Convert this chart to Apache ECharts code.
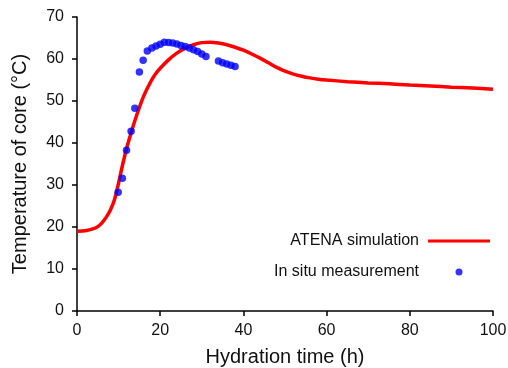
<!DOCTYPE html>
<html>
<head>
<meta charset="utf-8">
<script src="https://cdn.jsdelivr.net/npm/echarts@6/dist/echarts.min.js"></script>
<style>
  html, body { margin: 0; padding: 0; background: #fff; }
  #chart { width: 508px; height: 368px; }
</style>
</head>
<body>
<div id="chart"></div>
<script>
// ATENA simulation curve
const simTime = [0, 2, 4, 5, 6, 7, 8, 9, 10, 11, 12, 13, 14, 15, 16, 17, 18, 19, 20, 22, 24, 26, 28, 30, 32, 34, 36, 38, 40, 42, 44, 46, 48, 50, 52, 54, 56, 58, 60, 65, 70, 75, 80, 85, 90, 95, 100];
const simTemp = [19, 19.1, 19.6, 20.1, 21, 22.3, 24, 26.5, 30.5, 35, 39, 42.4, 45.6, 48.5, 51.1, 53.2, 55.1, 56.6, 57.8, 59.8, 61.4, 62.6, 63.4, 63.9, 64, 63.8, 63.4, 62.8, 62.1, 61.2, 60.2, 59.1, 58, 57.1, 56.4, 55.9, 55.5, 55.2, 55, 54.6, 54.3, 54.1, 53.8, 53.6, 53.3, 53.1, 52.8];

// in situ measurement points
const measTime = [9.9, 10.9, 11.9, 13, 13.9, 15, 15.9, 16.9, 18, 19, 20, 21, 22, 23, 24, 25, 26, 27, 28, 29, 30, 31, 34, 35, 36, 37, 38];
const measTemp = [28.3, 31.6, 38.3, 42.8, 48.3, 56.9, 59.7, 61.9, 62.6, 63.1, 63.5, 64, 63.9, 63.8, 63.6, 63.2, 63, 62.6, 62.2, 61.8, 61.2, 60.6, 59.5, 59.1, 58.8, 58.5, 58.2];

const fontFamily = '"Liberation Sans", Arial, sans-serif';
const chart = echarts.init(document.getElementById('chart'));

const axisCommon = {
  axisLine: { show: true, lineStyle: { color: '#000', width: 1.5 } },
  axisTick: { show: true, inside: false, length: 5, lineStyle: { color: '#000', width: 1.5 } },
  splitLine: { show: false },
  nameTextStyle: { color: '#111', fontSize: 20, fontFamily: fontFamily }
};

chart.setOption({
  animation: false,
  grid: { left: 77, right: 15, top: 17, bottom: 57, outerBoundsMode: 'none' },
  legend: {
    orient: 'vertical',
    align: 'right',
    right: 18,
    top: 233,
    padding: 0,
    itemWidth: 62,
    itemHeight: 7,
    itemGap: 15,
    textStyle: { color: '#111', fontSize: 16, fontFamily: fontFamily, padding: [0, 4, 0, 0] },
    data: [
      { name: 'ATENA simulation', icon: 'path://M0 0H62V3H0Z' },
      { name: 'In situ measurement', icon: 'circle' }
    ]
  },
  xAxis: Object.assign({}, axisCommon, {
    type: 'value',
    min: 0,
    max: 100,
    interval: 20,
    axisLabel: { color: '#111', fontSize: 16, fontFamily: fontFamily, margin: 12 },
    name: 'Hydration time (h)',
    nameLocation: 'middle',
    nameGap: 36
  }),
  yAxis: Object.assign({}, axisCommon, {
    type: 'value',
    min: 0,
    max: 70,
    interval: 10,
    axisLabel: { color: '#111', fontSize: 16, fontFamily: fontFamily, margin: 13 },
    name: 'Temperature of core (\u00B0C)',
    nameLocation: 'middle',
    nameGap: 47
  }),
  series: [
    {
      name: 'ATENA simulation',
      type: 'line',
      smooth: 0.3,
      showSymbol: false,
      symbol: 'none',
      lineStyle: { color: '#ff0000', width: 3.5 },
      itemStyle: { color: '#ff0000' },
      data: simTime.map((t, i) => [t, simTemp[i]]),
      z: 2
    },
    {
      name: 'In situ measurement',
      type: 'scatter',
      symbol: 'circle',
      symbolSize: 7.5,
      itemStyle: { color: '#0000ff' },
      data: measTime.map((t, i) => [t, measTemp[i]]),
      z: 3
    }
  ]
});
</script>
</body>
</html>
